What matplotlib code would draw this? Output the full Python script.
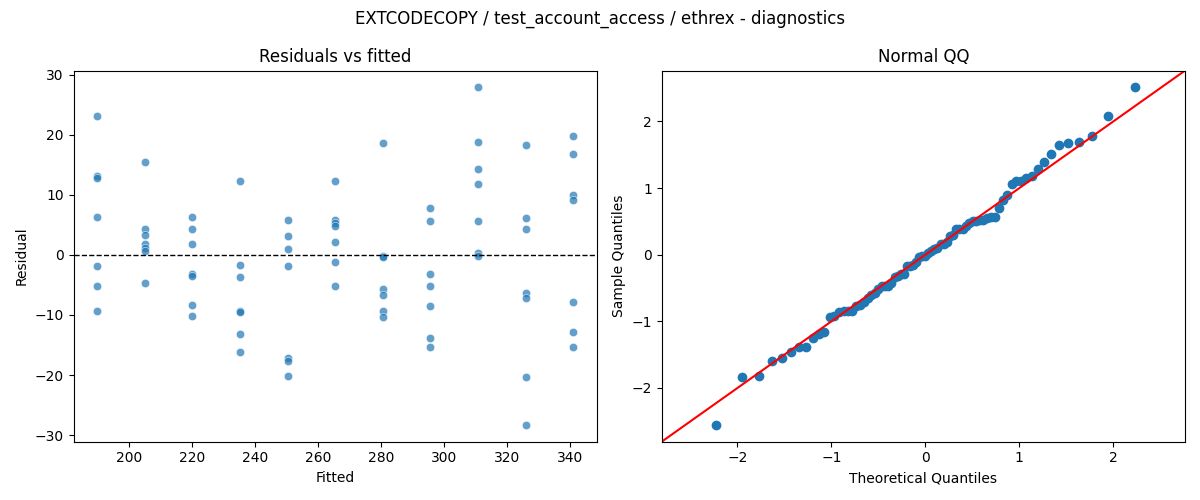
import numpy as np
import matplotlib
matplotlib.use("Agg")
import matplotlib.pyplot as plt
import seaborn as sns
from statistics import NormalDist

title = "EXTCODECOPY / test_account_access / ethrex - diagnostics"

# fitted value of each group (7 runs per group)
fitted_levels = [190.0, 205.1, 220.2, 235.3, 250.4, 265.5, 280.6, 295.7, 310.8, 325.9, 341.0]

# residuals, one list per fitted level
resid_190 = [23.1, 13.2, 12.9, 6.4, -1.9, -5.1, -9.4]
resid_205 = [15.5, 4.3, 3.3, 1.9, 1.2, 0.6, -4.7]
resid_220 = [6.4, 4.4, 1.8, -3.2, -3.5, -8.4, -10.1]
resid_235 = [12.3, -1.7, -3.6, -9.3, -9.5, -13.2, -16.2]
resid_250 = [5.8, 3.1, 1.0, -1.9, -17.2, -17.7, -20.2]
resid_265 = [12.3, 5.8, 5.3, 4.9, 2.2, -1.1, -5.1]
resid_280 = [18.6, -0.2, -0.4, -5.6, -6.6, -9.4, -10.3]
resid_295 = [7.8, 5.6, -3.1, -5.1, -8.5, -13.9, -15.4]
resid_310 = [27.9, 18.8, 14.4, 11.8, 5.6, 0.4, -0.2]
resid_325 = [18.3, 6.1, 4.4, -6.4, -7.2, -20.3, -28.3]
resid_340 = [19.8, 16.9, 10.0, 9.1, -7.9, -12.9, -15.4]

groups = [resid_190, resid_205, resid_220, resid_235, resid_250, resid_265,
          resid_280, resid_295, resid_310, resid_325, resid_340]

fitted = np.concatenate([[f] * len(g) for f, g in zip(fitted_levels, groups)])
resid = np.concatenate(groups)

fig, (ax1, ax2) = plt.subplots(1, 2, figsize=(12, 5), dpi=100)

#--- residuals vs fitted
sns.scatterplot(x=fitted, y=resid, ax=ax1, alpha=0.7)
ax1.axhline(0, color="black", linestyle="--", lw=1)
ax1.set_xlabel("Fitted")
ax1.set_ylabel("Residual")
ax1.set_title("Residuals vs fitted")

#--- normal QQ
n = len(resid)
z = (np.sort(resid) - resid.mean()) / resid.std()
theo = np.array([NormalDist().inv_cdf(i / (n + 1.0)) for i in range(1, n + 1)])
ax2.plot(theo, z, "o", color="C0", linestyle="none")
ax2.set_xlabel("Theoretical Quantiles")
ax2.set_ylabel("Sample Quantiles")
ax2.set_title("Normal QQ")
xl = ax2.get_xlim()
yl = ax2.get_ylim()
lo = min(xl[0], yl[0])
hi = max(xl[1], yl[1])
ax2.plot([lo, hi], [lo, hi], "r-")
ax2.set_xlim(lo, hi)
ax2.set_ylim(lo, hi)

fig.suptitle(title)
fig.tight_layout()
fig.savefig("out.png")
